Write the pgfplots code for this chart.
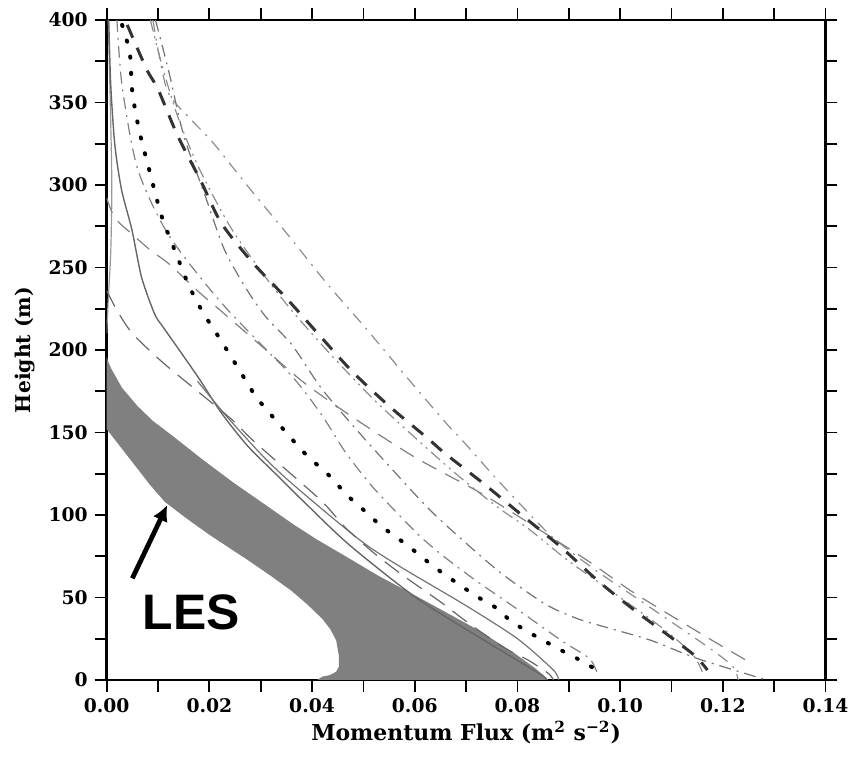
\documentclass[border=0pt]{standalone}
\usepackage{fontspec}
\setmainfont{DejaVu Serif}
\setsansfont{Liberation Sans}
\usepackage{pgfplots}
\pgfplotsset{compat=1.18}
\usetikzlibrary{arrows.meta}
\begin{document}
\begin{tikzpicture}
\begin{axis}[name=ax,
  scale only axis, width=360.5pt, height=331pt,
  xmin=0, xmax=0.14, ymin=0, ymax=400,
  xtick={0,0.02,0.04,0.06,0.08,0.1,0.12,0.14},
  minor xtick={0.01,0.03,0.05,0.07,0.09,0.11,0.13},
  ytick={0,50,100,150,200,250,300,350,400},
  minor ytick={25,75,125,175,225,275,325,375},
  tick align=outside, tick pos=both,
  major tick length=6pt, minor tick length=6pt,
  every tick/.style={black, line width=0.9pt},
  axis line style={line width=1.2pt},
  scaled x ticks=false,
  xticklabel style={/pgf/number format/.cd, fixed, fixed zerofill, precision=2, assume math mode=true},
  yticklabel style={/pgf/number format/assume math mode=true},
  ticklabel style={font=\bfseries\fontsize{9.4}{10}\selectfont},
  xlabel={\bfseries Momentum Flux (m\textsuperscript{2} s\textsuperscript{−2})},
  ylabel={\bfseries Height (m)},
  xlabel style={font=\fontsize{11}{12}\selectfont, yshift=3pt},
  ylabel style={font=\fontsize{10.2}{11}\selectfont, yshift=0pt},
  every axis plot/.append style={smooth, tension=0.45},
]
% LES band
\addplot[fill=black!50, draw=none, sharp plot] coordinates {
(0,196) (0.0004,192) (0.001,188) (0.003,177) (0.006,166) (0.009,157) (0.0128,148) (0.0185,134) (0.0245,120) (0.0305,107) (0.0365,94) (0.041,85) (0.0465,75) (0.053,63) (0.059,53) (0.0655,42) (0.0725,30) (0.0795,16) (0.0835,7) (0.085,3) (0.086,0)
(0.041,0) (0.0415,1) (0.042,2) (0.0435,3) (0.0447,5) (0.0452,8) (0.0452,15) (0.0447,24) (0.0435,31) (0.042,37) (0.039,46) (0.036,54) (0.032,63) (0.0278,72) (0.020,88) (0.0155,98) (0.0113,108) (0.0085,118) (0.006,128) (0.0035,138) (0.001,148) (0,152) (0,196)};
% light line hugging axis
\addplot[black!40, line width=0.6pt] coordinates {(0.0003,400) (0.0007,350) (0.001,300) (0.0008,260) (0.0003,230) (0,210)};
% solid lines
\addplot[black!60, line width=0.7pt] coordinates {(0.0004,400) (0.0008,360) (0.0016,324) (0.0029,297) (0.0049,273) (0.0068,244) (0.0093,222) (0.0105,216)};
\addplot[black!60, line width=0.7pt] coordinates {(0.0105,216) (0.0177,184) (0.0223,162) (0.0274,142) (0.0332,124) (0.0384,108) (0.0472,82) (0.0602,50) (0.073,25) (0.0847,3) (0.0855,0)};
\addplot[black!55, line width=0.6pt] coordinates {(0.0177,181) (0.0233,160) (0.03,137) (0.035,122) (0.0433,100) (0.0505,82) (0.0575,68) (0.07,45) (0.08,25) (0.087,6) (0.088,0)};
% inner long dash
\addplot[black!60, line width=0.6pt, dash pattern=on 9pt off 5pt] coordinates {(0,236) (0.002,224) (0.005,210) (0.0107,193) (0.0177,175) (0.0243,158) (0.0282,146) (0.034,130) (0.042,108) (0.0466,92) (0.0524,76) (0.0583,62) (0.0647,48) (0.0711,33) (0.0777,19) (0.0821,12) (0.086,4) (0.087,0)};
% long dash light outer-ish
\addplot[black!50, line width=0.6pt, dash pattern=on 8pt off 5pt] coordinates {(0,292) (0.0016,280) (0.005,270) (0.0087,260) (0.0122,252) (0.018,235) (0.0225,223) (0.0303,202) (0.0385,180) (0.0485,158) (0.06,135) (0.073,113) (0.0838,92) (0.0938,72) (0.1021,54) (0.1107,37.5) (0.119,22) (0.1245,12)};
% hook dash-dot near dotted
\addplot[black!50, line width=0.6pt, dash pattern=on 6pt off 3pt on 1pt off 3pt] coordinates {(0.002,400) (0.003,360) (0.006,310) (0.012,270) (0.0225,228) (0.0361,184) (0.042,160) (0.0465,138) (0.0515,118) (0.0563,102) (0.0614,86) (0.066,74) (0.072,60) (0.079,45) (0.0885,24) (0.094,13) (0.0957,3)};
% dash-dot D1
\addplot[black!55, line width=0.6pt, dash pattern=on 6pt off 3pt on 1pt off 3pt] coordinates {(0.0095,400) (0.012,370) (0.015,330) (0.019,295) (0.0229,261) (0.0272,237) (0.031,220) (0.0361,203) (0.042,176) (0.0497,148) (0.0555,128) (0.0614,108) (0.066,94) (0.0763,66) (0.0854,46) (0.0918,37) (0.0983,31) (0.106,24) (0.115,13) (0.1274,1) (0.128,0)};
% dash-dot-dot D2
\addplot[black!45, line width=0.6pt, dash pattern=on 6pt off 2.5pt on 1pt off 2.5pt on 1pt off 2.5pt] coordinates {(0.0085,400) (0.011,370) (0.014,340) (0.018,310) (0.024,275) (0.03,248) (0.036,224) (0.044,196) (0.052,170) (0.06,147) (0.068,125) (0.076,105) (0.082,92) (0.09,72) (0.1,50) (0.108,32) (0.114,16) (0.116,5)};
% outer dash-dot O
\addplot[black!45, line width=0.6pt, dash pattern=on 6pt off 3.5pt on 1pt off 3.5pt] coordinates {(0.009,400) (0.0117,358) (0.016,341) (0.0206,326) (0.0278,298) (0.0355,269) (0.0427,241) (0.0505,213) (0.0583,184) (0.066,156) (0.0699,143) (0.075,125) (0.081,105) (0.087,86) (0.095,67) (0.103,50) (0.111,33) (0.118,18) (0.122,8) (0.123,0)};
% thick dark dashed
\addplot[black!80, line width=1.5pt, dash pattern=on 7pt off 5.5pt] coordinates {(0.004,397) (0.0078,370) (0.01,358) (0.0138,330) (0.0184,302) (0.0223,277) (0.0284,253) (0.0351,231) (0.0414,209) (0.0478,187) (0.055,166) (0.0623,147) (0.066,137) (0.0734,119) (0.0812,99) (0.0883,81) (0.0957,60) (0.1029,42) (0.1107,24) (0.1148,14) (0.117,6)};
% black dotted
\addplot[black, line width=2pt, line cap=round, dash pattern=on 0.6pt off 7.6pt] coordinates {(0.003,397) (0.0045,380) (0.005,356) (0.0064,332) (0.0083,309) (0.0107,281) (0.0137,257) (0.016,239) (0.0187,223) (0.022,207) (0.0258,188) (0.029,172) (0.0322,160) (0.0355,148) (0.039,136) (0.0433,124) (0.0468,112) (0.049,106) (0.0536,93) (0.0588,81) (0.064,68) (0.0695,56) (0.0724,50) (0.0757,44) (0.0786,36) (0.0816,30) (0.085,24) (0.0885,18) (0.0922,12) (0.0955,6)};
% annotation
\draw[line width=2.4pt, -{Latex[length=8pt,width=8pt]}] (axis cs:0.005,61.6) -- (axis cs:0.0118,106);
\node[font=\sffamily\bfseries\fontsize{25}{25}\selectfont] at (axis cs:0.0165,41) {LES};
\end{axis}
\path ([shift={(-53.5pt,-38.5pt)}]ax.south west) rectangle ([shift={(13.5pt,10pt)}]ax.north east);
\end{tikzpicture}
\end{document}
